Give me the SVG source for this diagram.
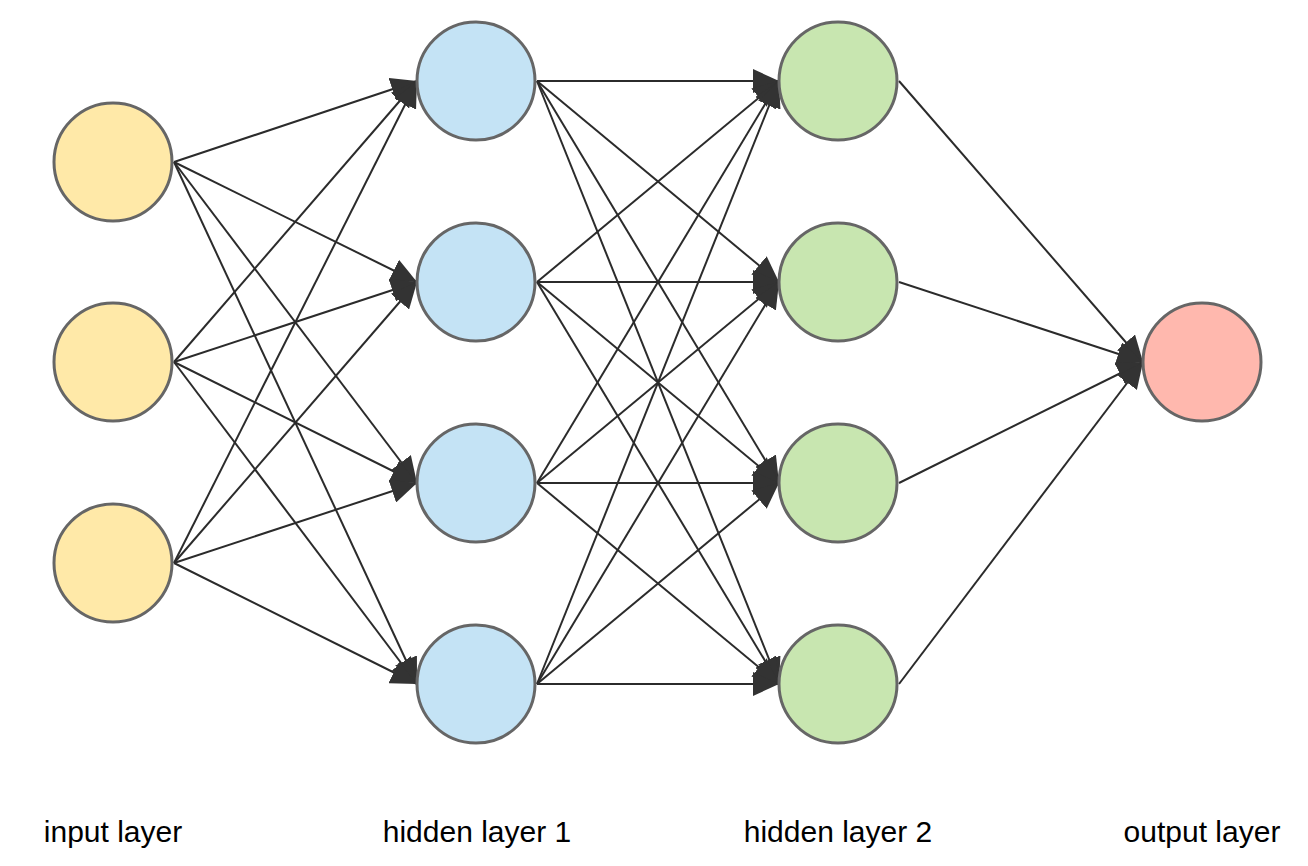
<svg xmlns="http://www.w3.org/2000/svg" width="1308" height="866" viewBox="0 0 1308 866">
<style>
.n{stroke:#666;stroke-width:3}
.in{fill:#ffe9a8}.h1{fill:#c4e3f5}.h2{fill:#c8e6b0}.out{fill:#ffb8ae}
.c line{stroke:#2b2b2b;stroke-width:2;marker-end:url(#a)}
text{font-family:"Liberation Sans",Arial,sans-serif;font-size:30px;fill:#000;text-anchor:middle}
</style>
<defs><marker id="a" markerUnits="userSpaceOnUse" markerWidth="28" markerHeight="24" refX="26" refY="12" orient="auto"><path d="M0,0 L26,12 L0,24 z" fill="#333"/></marker></defs>
<rect width="1308" height="866" fill="#fff"/>
<g class="c" id="connectors">
<line x1="174" y1="162" x2="417" y2="81"/><line x1="174" y1="162" x2="417" y2="282"/><line x1="174" y1="162" x2="417" y2="483"/><line x1="174" y1="162" x2="417" y2="684"/>
<line x1="174" y1="362" x2="417" y2="81"/><line x1="174" y1="362" x2="417" y2="282"/><line x1="174" y1="362" x2="417" y2="483"/><line x1="174" y1="362" x2="417" y2="684"/>
<line x1="174" y1="563" x2="417" y2="81"/><line x1="174" y1="563" x2="417" y2="282"/><line x1="174" y1="563" x2="417" y2="483"/><line x1="174" y1="563" x2="417" y2="684"/>
<line x1="537" y1="81" x2="779" y2="81"/><line x1="537" y1="81" x2="779" y2="282"/><line x1="537" y1="81" x2="779" y2="483"/><line x1="537" y1="81" x2="779" y2="684"/>
<line x1="537" y1="282" x2="779" y2="81"/><line x1="537" y1="282" x2="779" y2="282"/><line x1="537" y1="282" x2="779" y2="483"/><line x1="537" y1="282" x2="779" y2="684"/>
<line x1="537" y1="483" x2="779" y2="81"/><line x1="537" y1="483" x2="779" y2="282"/><line x1="537" y1="483" x2="779" y2="483"/><line x1="537" y1="483" x2="779" y2="684"/>
<line x1="537" y1="684" x2="779" y2="81"/><line x1="537" y1="684" x2="779" y2="282"/><line x1="537" y1="684" x2="779" y2="483"/><line x1="537" y1="684" x2="779" y2="684"/>
<line x1="899" y1="81" x2="1143" y2="362"/><line x1="899" y1="282" x2="1143" y2="362"/><line x1="899" y1="483" x2="1143" y2="362"/><line x1="899" y1="684" x2="1143" y2="362"/>
</g>
<g id="i1"><circle class="n in" cx="113" cy="162" r="59"/></g>
<g id="i2"><circle class="n in" cx="113" cy="362" r="59"/></g>
<g id="i3"><circle class="n in" cx="113" cy="563" r="59"/></g>
<g id="a1"><circle class="n h1" cx="476" cy="81" r="59"/></g>
<g id="a2"><circle class="n h1" cx="476" cy="282" r="59"/></g>
<g id="a3"><circle class="n h1" cx="476" cy="483" r="59"/></g>
<g id="a4"><circle class="n h1" cx="476" cy="684" r="59"/></g>
<g id="b1"><circle class="n h2" cx="838" cy="81" r="59"/></g>
<g id="b2"><circle class="n h2" cx="838" cy="282" r="59"/></g>
<g id="b3"><circle class="n h2" cx="838" cy="483" r="59"/></g>
<g id="b4"><circle class="n h2" cx="838" cy="684" r="59"/></g>
<g id="o1"><circle class="n out" cx="1202" cy="362" r="59"/></g>
<g id="labels">
<text x="113" y="842">input layer</text>
<text x="477" y="842">hidden layer 1</text>
<text x="838" y="842">hidden layer 2</text>
<text x="1202" y="842">output layer</text>
</g>
</svg>
